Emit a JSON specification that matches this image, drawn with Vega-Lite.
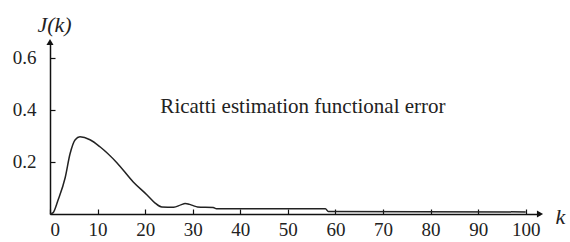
{
  "$schema": "https://vega.github.io/schema/vega-lite/v6.json",
  "autosize": "none",
  "width": 490,
  "height": 172,
  "padding": {"left": 50, "top": 42, "right": 30, "bottom": 28},
  "background": "white",
  "config": {
    "view": {"stroke": null},
    "font": "Liberation Serif",
    "axis": {
      "domainColor": "#111",
      "domainWidth": 1.5,
      "tickColor": "#111",
      "tickWidth": 1.2,
      "grid": false,
      "labelFont": "Liberation Serif",
      "labelFontSize": 19,
      "labelColor": "#222",
      "titleFont": "Liberation Serif",
      "titleFontSize": 22,
      "titleFontWeight": "normal",
      "titleFontStyle": "italic",
      "titleColor": "#222"
    }
  },
  "layer": [
    {
      "data": {"values": [
        {"k": 0, "J": 0},
        {"k": 0.6, "J": 0.004},
        {"k": 1.7, "J": 0.054},
        {"k": 3.2, "J": 0.14},
        {"k": 4.2, "J": 0.23},
        {"k": 5.3, "J": 0.285},
        {"k": 6.3, "J": 0.296},
        {"k": 8.4, "J": 0.285},
        {"k": 10.5, "J": 0.258},
        {"k": 14.1, "J": 0.196},
        {"k": 17.5, "J": 0.123},
        {"k": 20.4, "J": 0.073},
        {"k": 22.1, "J": 0.042},
        {"k": 23.5, "J": 0.027},
        {"k": 26, "J": 0.026},
        {"k": 27.5, "J": 0.035},
        {"k": 28.4, "J": 0.04},
        {"k": 29.3, "J": 0.037},
        {"k": 30.1, "J": 0.032},
        {"k": 31, "J": 0.027},
        {"k": 34.3, "J": 0.025},
        {"k": 35, "J": 0.02},
        {"k": 57.9, "J": 0.02},
        {"k": 58.5, "J": 0.01},
        {"k": 100, "J": 0.008}
      ]},
      "mark": {"type": "line", "color": "#222", "strokeWidth": 1.5, "interpolate": "monotone"},
      "encoding": {
        "x": {
          "field": "k", "type": "quantitative",
          "scale": {"domain": [0, 103], "nice": false},
          "axis": {
            "title": "k", "values": [0,10,20,30,40,50,60,70,80,90,100],
            "tickSize": -5, "labelPadding": 11,
            "titleAngle": 0, "titleX": 505, "titleY": 2, "titleAlign": "left", "titleBaseline": "middle"
          }
        },
        "y": {
          "field": "J", "type": "quantitative",
          "scale": {"domain": [0, 0.66], "nice": false},
          "axis": {
            "title": "J(k)", "values": [0.2, 0.4, 0.6], "format": ".1f",
            "tickSize": -5, "labelPadding": 19,
            "titleAngle": 0, "titleX": -13, "titleY": -18, "titleAlign": "left", "titleBaseline": "middle"
          }
        }
      }
    },
    {
      "data": {"values": [{"k": 103, "J": 0}]},
      "mark": {"type": "point", "shape": "triangle-right", "filled": true, "color": "#111", "size": 50, "opacity": 1, "clip": false},
      "encoding": {"x": {"field": "k", "type": "quantitative"}, "y": {"field": "J", "type": "quantitative"}}
    },
    {
      "data": {"values": [{"k": 0, "J": 0.66}]},
      "mark": {"type": "point", "shape": "triangle-up", "filled": true, "color": "#111", "size": 50, "opacity": 1, "clip": false},
      "encoding": {"x": {"field": "k", "type": "quantitative"}, "y": {"field": "J", "type": "quantitative"}}
    },
    {
      "data": {"values": [{"k": 23.2, "J": 0.41, "label": "Ricatti estimation functional error"}]},
      "mark": {"type": "text", "align": "left", "baseline": "middle", "font": "Liberation Serif", "fontSize": 21, "color": "#222"},
      "encoding": {"x": {"field": "k", "type": "quantitative"}, "y": {"field": "J", "type": "quantitative"}, "text": {"field": "label"}}
    }
  ]
}
